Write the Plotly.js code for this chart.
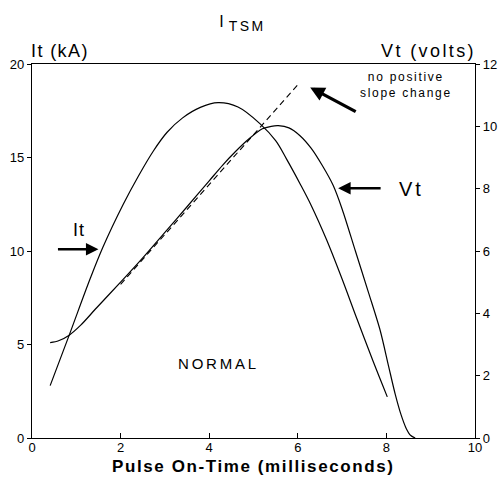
<!DOCTYPE html>
<html>
<head>
<meta charset="utf-8">
<script src="https://cdn.plot.ly/plotly-3.0.1.min.js"></script>
<style>html,body{margin:0;padding:0;background:#fff;}#chart{width:503px;height:483px;}</style>
</head>
<body>
<div id="chart"></div>
<script>
// Current It (kA), left axis
const itTime = [0.41, 0.84, 1.31, 1.6, 2.06, 2.4, 2.74, 3.05, 3.4, 3.8, 4.2, 4.65, 5.15, 5.5, 5.75, 6.05, 6.3, 6.65, 7.0, 7.33, 7.7, 8.02];
const itKA   = [2.8, 5.5, 8.5, 10.2, 12.5, 14.0, 15.35, 16.35, 17.12, 17.68, 17.93, 17.7, 16.8, 15.9, 14.9, 13.6, 12.45, 10.6, 8.5, 6.4, 4.1, 2.2];

// Voltage Vt (volts), right axis
const vtTime = [0.41, 0.6, 0.84, 1.1, 1.46, 2.0, 2.5, 3.0, 3.5, 4.0, 4.3, 4.6, 4.9, 5.2, 5.4, 5.56, 5.8, 6.05, 6.3, 6.55, 6.8, 7.0, 7.3, 7.6, 7.86, 8.05, 8.2, 8.33, 8.45, 8.55, 8.65];
const vtVolts = [3.06, 3.12, 3.30, 3.62, 4.18, 5.0, 5.78, 6.6, 7.42, 8.25, 8.75, 9.2, 9.6, 9.92, 10.0, 10.02, 9.95, 9.7, 9.3, 8.75, 8.1, 7.35, 6.0, 4.65, 3.45, 2.3, 1.4, 0.75, 0.3, 0.08, 0.0];

// Dashed extrapolation "no positive slope change" (volts)
const dashTime = [2.0, 6.03];
const dashVolts = [4.93, 11.38];

// Axis ticks
const xTicks = [0, 2, 4, 6, 8, 10];
const yLeftTicks = [0, 5, 10, 15, 20];
const yRightTicks = [0, 2, 4, 6, 8, 10, 12];

const FONT = 'Liberation Sans, Arial, sans-serif';
const sp = (t, px) => '<span style="letter-spacing:' + px + 'px">' + t + '</span>';

const traces = [
  {x: itTime, y: itKA, type: 'scatter', mode: 'lines', line: {color: '#000', width: 1.2, shape: 'spline', smoothing: 1}, yaxis: 'y', hoverinfo: 'skip'},
  {x: vtTime, y: vtVolts, type: 'scatter', mode: 'lines', line: {color: '#000', width: 1.2, shape: 'spline', smoothing: 0.8}, yaxis: 'y2', hoverinfo: 'skip'},
  {x: dashTime, y: dashVolts, type: 'scatter', mode: 'lines', line: {color: '#000', width: 1.1, dash: '6px,4px'}, yaxis: 'y2', hoverinfo: 'skip'}
];

const layout = {
  width: 503, height: 483,
  margin: {l: 32, r: 28, t: 64, b: 45, pad: 0},
  paper_bgcolor: '#fff', plot_bgcolor: '#fff',
  showlegend: false,
  font: {family: FONT, color: '#000', size: 13},
  title: {text: sp('I', 5) + '<sub><span style="font-size:14px;letter-spacing:2.5px">TSM</span></sub>', xref: 'container', yref: 'container', x: 0.482, y: 0.955, xanchor: 'center', yanchor: 'middle', font: {family: FONT, size: 16, color: '#000'}},
  xaxis: {
    range: [0, 10], tickvals: xTicks, ticktext: xTicks.map(String),
    showgrid: false, zeroline: false, showline: true, linecolor: '#000', linewidth: 1.2,
    mirror: true, ticks: 'inside', ticklen: 5, tickcolor: '#000', tickwidth: 1,
    ticklabelstandoff: -3,
    tickfont: {family: FONT, size: 13, color: '#000'}, fixedrange: true
  },
  yaxis: {
    range: [0, 20], tickvals: yLeftTicks, ticktext: yLeftTicks.map(String),
    showgrid: false, zeroline: false, showline: true, linecolor: '#000', linewidth: 1.2,
    ticks: 'outside', ticklen: 4, tickcolor: '#000', tickwidth: 1,
    tickfont: {family: FONT, size: 13, color: '#000'}, fixedrange: true
  },
  yaxis2: {
    range: [0, 12], tickvals: yRightTicks, ticktext: yRightTicks.map(String),
    overlaying: 'y', side: 'right', anchor: 'x',
    showgrid: false, zeroline: false, showline: true, linecolor: '#000', linewidth: 1.2,
    ticks: 'outside', ticklen: 4, tickcolor: '#000', tickwidth: 1,
    tickfont: {family: FONT, size: 13, color: '#000'}, fixedrange: true
  },
  annotations: [
    {text: sp('It (kA)', 1.4), xref: 'paper', yref: 'paper', x: -0.006, y: 1.034, xanchor: 'left', yanchor: 'middle', showarrow: false, font: {family: FONT, size: 18, color: '#000'}},
    {text: sp('Vt (volts)', 2.4), xref: 'paper', yref: 'paper', x: 1.007, y: 1.034, xanchor: 'right', yanchor: 'middle', showarrow: false, font: {family: FONT, size: 18, color: '#000'}},
    {text: '<b>' + sp('Pulse On-Time (milliseconds)', 1.6) + '</b>', xref: 'paper', yref: 'paper', x: 0.5, y: -0.077, xanchor: 'center', yanchor: 'middle', showarrow: false, font: {family: FONT, size: 17, color: '#000'}},
    {text: sp('It', 1), xref: 'x', yref: 'y', x: 1.06, y: 11.15, xanchor: 'center', yanchor: 'middle', showarrow: false, font: {family: FONT, size: 18, color: '#000'}},
    {text: '', xref: 'x', yref: 'y', x: 1.50, y: 10.09, showarrow: true, ax: -42, ay: 0, arrowhead: 2, arrowsize: 1, arrowwidth: 2.5, arrowcolor: '#000'},
    {text: sp('Vt', 3), xref: 'x', yref: 'y', x: 8.56, y: 13.3, xanchor: 'center', yanchor: 'middle', showarrow: false, font: {family: FONT, size: 20, color: '#000'}},
    {text: '', xref: 'x', yref: 'y', x: 6.91, y: 13.35, showarrow: true, ax: 44, ay: 0, arrowhead: 2, arrowsize: 1, arrowwidth: 2.5, arrowcolor: '#000'},
    {text: sp('no positive', 1.7) + '<br>' + sp('slope change', 1.7), xref: 'x', yref: 'y', x: 8.44, y: 18.9, xanchor: 'center', yanchor: 'middle', showarrow: false, align: 'center', font: {family: FONT, size: 12, color: '#000'}},
    {text: '', xref: 'x', yref: 'y', x: 6.28, y: 18.75, showarrow: true, ax: 47, ay: 25, arrowhead: 2, arrowsize: 0.9, arrowwidth: 3.2, arrowcolor: '#000'},
    {text: sp('NORMAL', 2.8), xref: 'x', yref: 'y', x: 4.21, y: 4.01, xanchor: 'center', yanchor: 'middle', showarrow: false, font: {family: FONT, size: 15, color: '#000'}}
  ]
};

Plotly.newPlot('chart', traces, layout, {staticPlot: true, displayModeBar: false});
</script>
</body>
</html>
